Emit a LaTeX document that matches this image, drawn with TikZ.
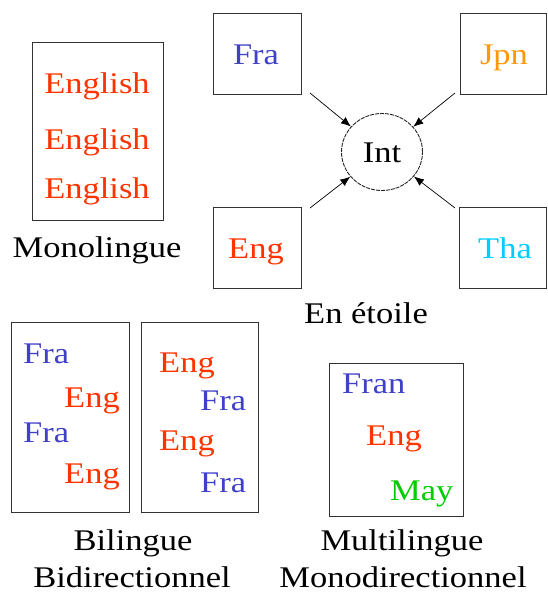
\documentclass[tikz,border=0pt]{standalone}
\usepackage{fontspec}
\setmainfont[FakeStretch=1.15]{Liberation Serif}
\usetikzlibrary{arrows.meta,shapes.geometric}
\definecolor{cblue}{HTML}{4040C8}
\definecolor{cred}{HTML}{FF3300}
\definecolor{corange}{HTML}{FF9900}
\definecolor{ccyan}{HTML}{00CCFF}
\definecolor{cgreen}{HTML}{00CC00}
\tikzset{
  box/.style={draw=black!80, line width=0.9pt},
  txt/.style={inner sep=0pt, font=\fontsize{30}{31}\selectfont},
  arr/.style={line width=0.7pt, -{Latex[length=10pt,width=8pt]}},
}
\begin{document}
\begin{tikzpicture}[x=1pt,y=-1pt]
\useasboundingbox (0,0) rectangle (547,594);
% Monolingue
\draw[box] (32,42) rectangle (163,220);
\node[txt,cred,anchor=base] (en1) at (97,93) {English};
\node[txt,cred,anchor=base] (en2) at (97,149) {English};
\node[txt,cred,anchor=base] (en3) at (97,198) {English};
\node[txt,anchor=base] (mono) at (97,257) {Monolingue};
% Star
\draw[box] (213,13) rectangle (301,94);
\draw[box] (460,13) rectangle (546.5,94);
\draw[box] (213,207) rectangle (301,288);
\draw[box] (459,207) rectangle (546.5,288);
\node[txt,cblue,anchor=base] (fra) at (256,64) {Fra};
\node[txt,corange,anchor=base] (jpn) at (504,64) {Jpn};
\node[txt,cred,anchor=base] (eng) at (256,258) {Eng};
\node[txt,ccyan,anchor=base] (tha) at (505,258) {Tha};
\node[draw=black!85, line width=0.9pt, dash pattern=on 4pt off 1pt, ellipse, minimum width=81pt, minimum height=77pt, inner sep=0pt] (int) at (382,152) {};
\node[txt,anchor=base] (intl) at (382,162) {Int};
\coordinate (sfra) at (310,93);
\coordinate (sjpn) at (455,93);
\coordinate (seng) at (310,208);
\coordinate (stha) at (455,208);
\draw[arr] (sfra) -- (int);
\draw[arr] (sjpn) -- (int);
\draw[arr] (seng) -- (int);
\draw[arr] (stha) -- (int);
\node[txt,anchor=base] (etoile) at (366,323) {En étoile};
% Bilingue
\draw[box] (11,322) rectangle (129,512);
\draw[box] (141,322) rectangle (258,512);
\node[txt,cblue,anchor=base west] (b1) at (23,363) {Fra};
\node[txt,cred,anchor=base west] (b2) at (64,407) {Eng};
\node[txt,cblue,anchor=base west] (b3) at (23,442) {Fra};
\node[txt,cred,anchor=base west] (b4) at (64,483) {Eng};
\node[txt,cred,anchor=base west] (c1) at (159,372) {Eng};
\node[txt,cblue,anchor=base west] (c2) at (200,410) {Fra};
\node[txt,cred,anchor=base west] (c3) at (159,450) {Eng};
\node[txt,cblue,anchor=base west] (c4) at (200,492) {Fra};
\node[txt,anchor=base] (bil) at (133,550) {Bilingue};
\node[txt,anchor=base] (bid) at (132,587) {Bidirectionnel};
% Multilingue
\draw[box] (329,363) rectangle (463,516);
\node[txt,cblue,anchor=base west] (m1) at (342,393) {Fran};
\node[txt,cred,anchor=base west] (m2) at (366,445) {Eng};
\node[txt,cgreen,anchor=base west] (m3) at (390,500) {May};
\node[txt,anchor=base] (mul) at (402,550) {Multilingue};
\node[txt,anchor=base] (mon) at (403,587) {Monodirectionnel};
\end{tikzpicture}
\end{document}
